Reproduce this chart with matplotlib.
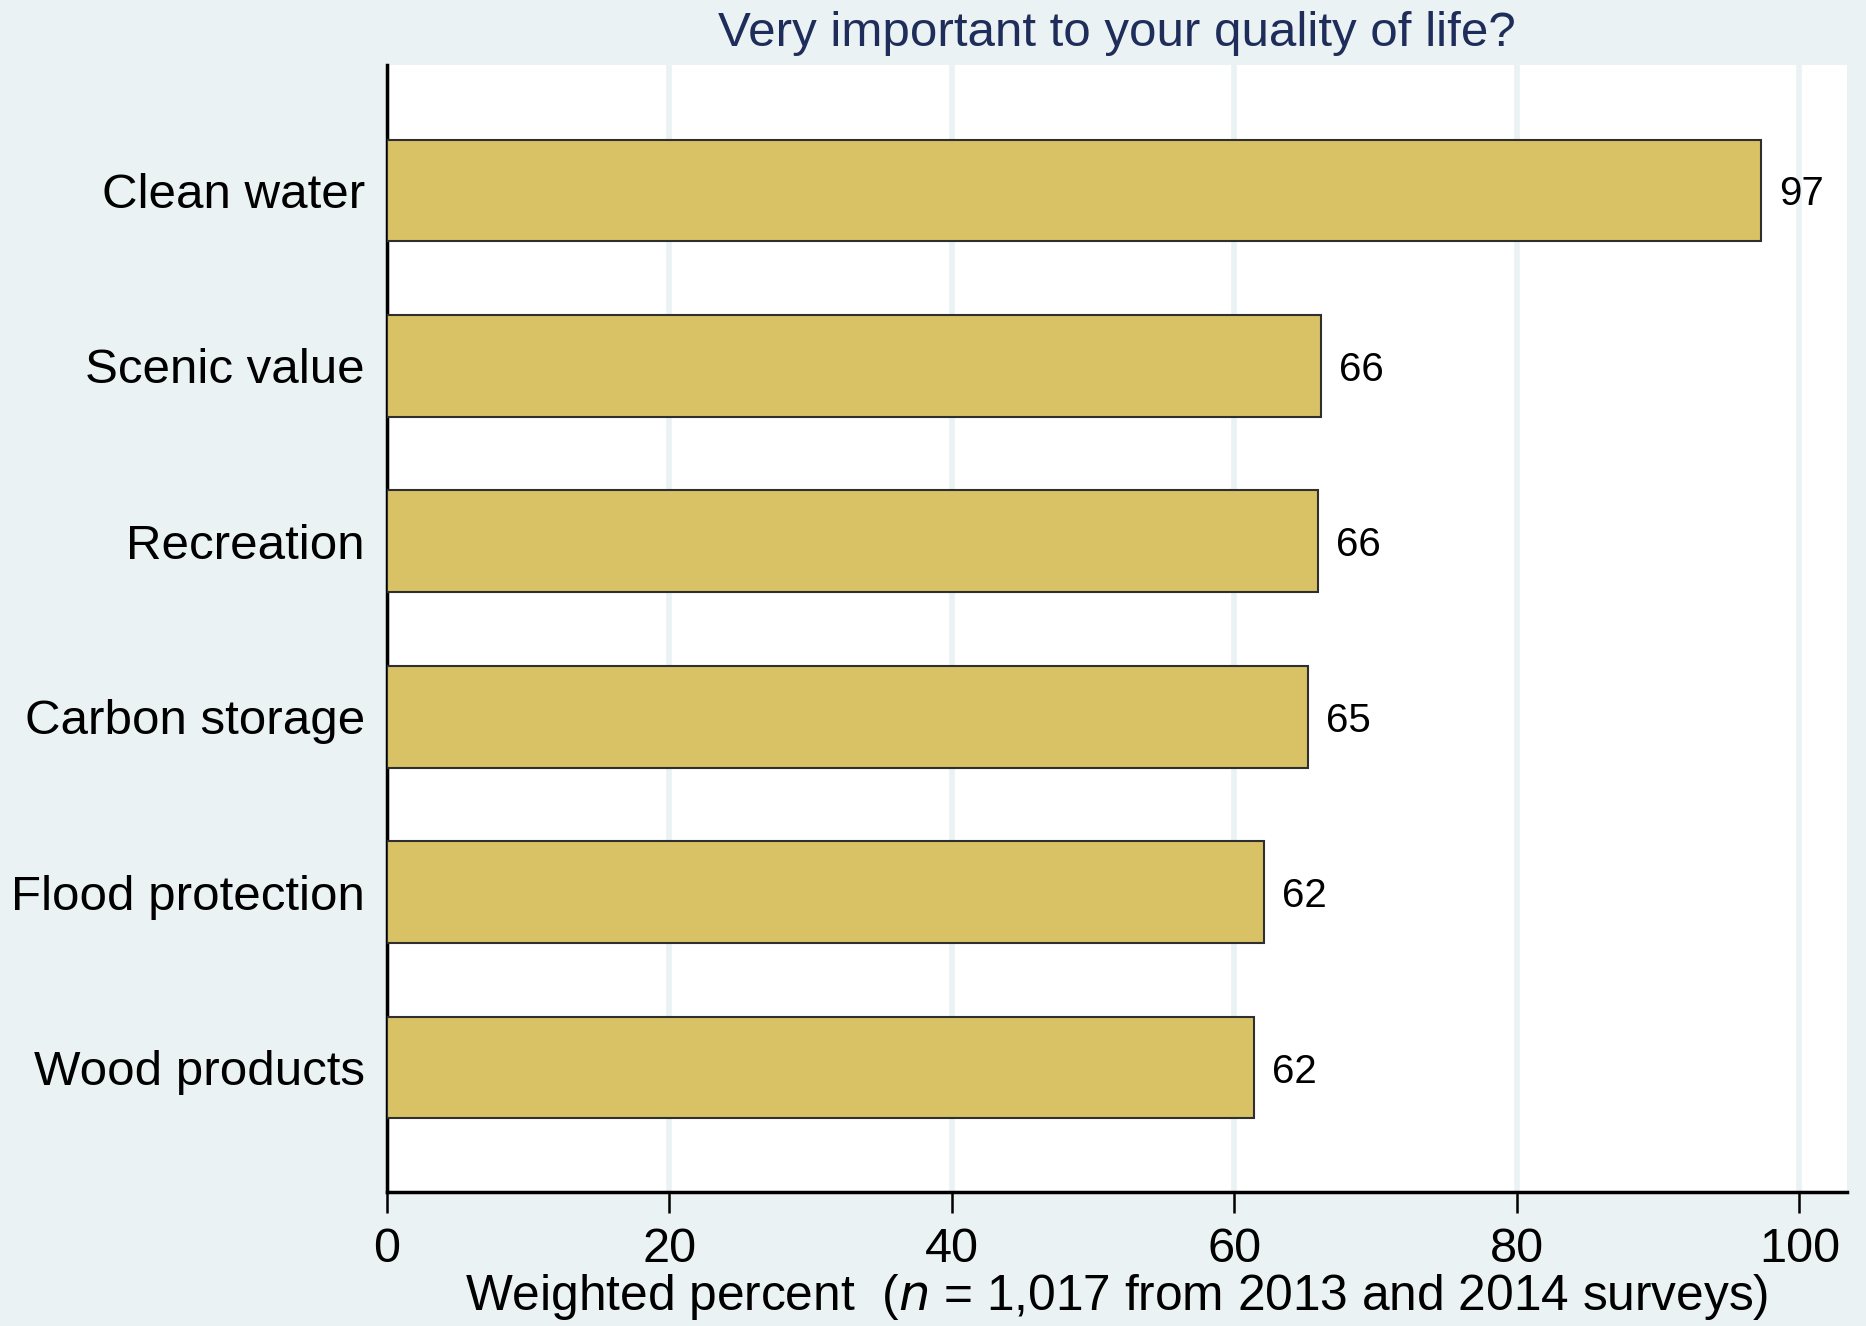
import numpy as np
import matplotlib.pyplot as plt

# data
categories = ["Clean water", "Scenic value", "Recreation",
              "Carbon storage", "Flood protection", "Wood products"]
values = [97.3, 66.1, 65.9, 65.2, 62.1, 61.4]
value_labels = ["97", "66", "66", "65", "62", "62"]
xticks = [0, 20, 40, 60, 80, 100]

plt.rcParams["font.family"] = ["Liberation Sans", "DejaVu Sans"]

bg = "#eaf2f3"
bar_color = "#d8c265"

fig = plt.figure(figsize=(18.66, 13.26), dpi=100, facecolor=bg)
ax = fig.add_axes([0.2074, 0.101, 0.7826, 0.850])
ax.set_facecolor("white")

y = np.arange(len(categories))
ax.barh(y, values, height=0.58, color=bar_color, edgecolor="#2f2f2f",
        linewidth=1.5, zorder=3)

for yi, v, lab in zip(y, values, value_labels):
    ax.annotate(lab, (v, yi), xytext=(13, 0), textcoords="offset points",
                ha="left", va="center_baseline", fontsize=29, color="black")

ax.set_ylim(5.71, -0.715)
ax.set_xlim(0, 103.4)
ax.set_yticks(y)
ax.set_yticklabels(categories, fontsize=35.5)
ax.set_xticks(xticks)
ax.set_xticklabels([str(t) for t in xticks], fontsize=35)

ax.tick_params(axis="y", length=0, pad=16)
ax.tick_params(axis="x", length=15, width=1.8, pad=10)

ax.grid(axis="x", color=bg, linewidth=4, zorder=0)
ax.set_axisbelow(True)

for s in ["top", "right"]:
    ax.spines[s].set_visible(False)
ax.spines["left"].set_linewidth(2.5)
ax.spines["bottom"].set_linewidth(2.5)

ax.set_title("Very important to your quality of life?", fontsize=35.5,
             color="#1f2d5a", pad=14)
ax.set_xlabel("Weighted percent  ($\\it{n}$ = 1,017 from 2013 and 2014 surveys)",
              fontsize=35.7, labelpad=0)

fig.savefig("out.png", dpi=100, facecolor=bg)
